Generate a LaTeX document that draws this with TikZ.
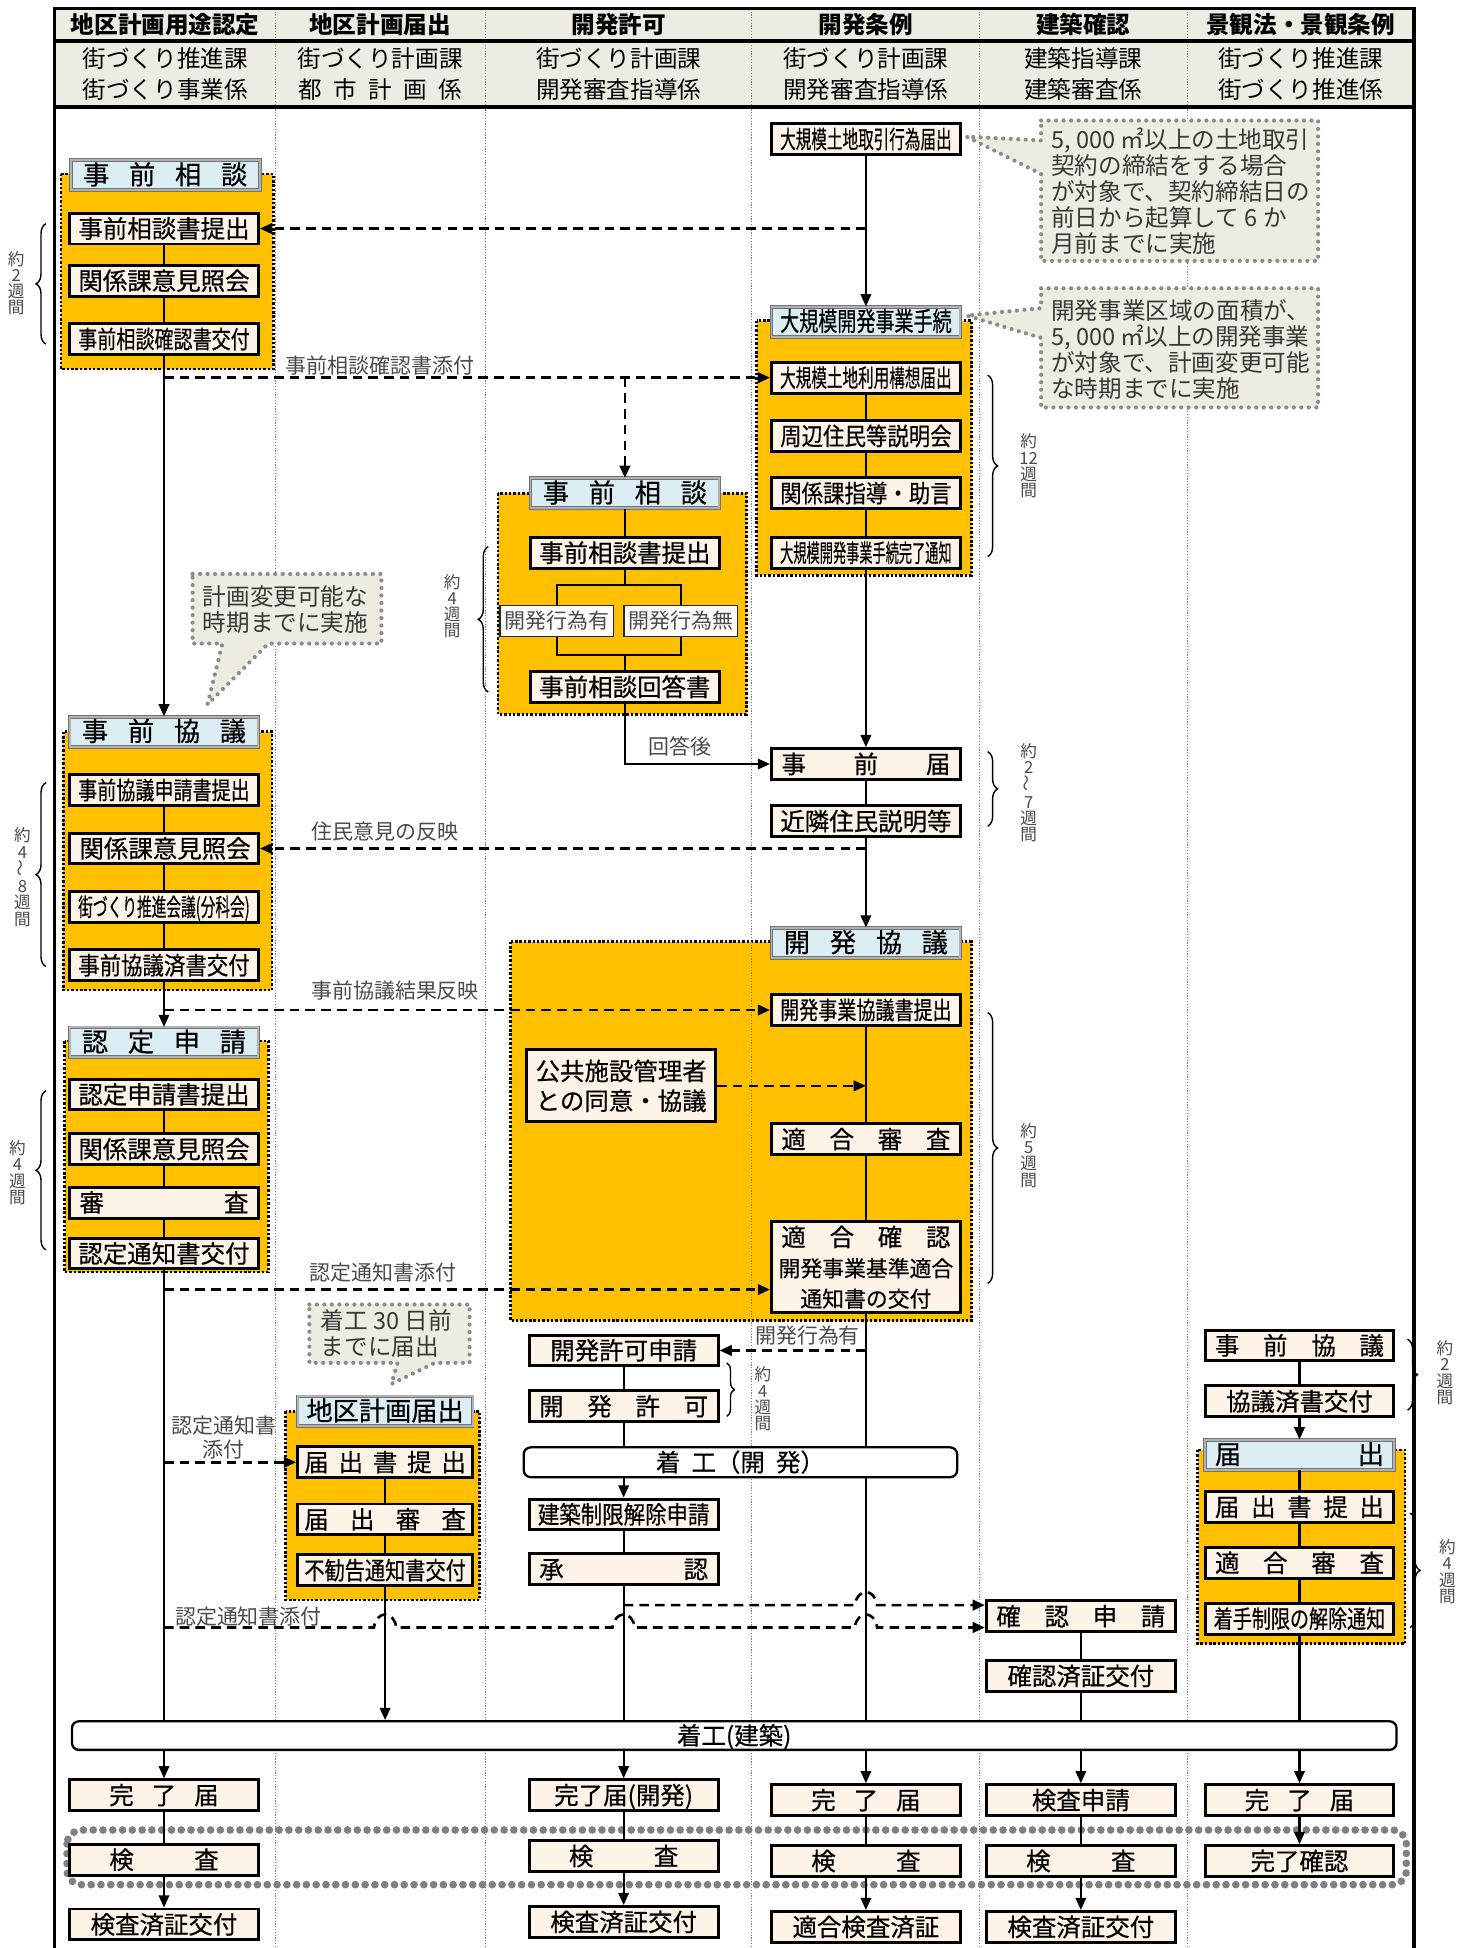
\documentclass[tikz,border=0pt]{standalone}
\usepackage{fontspec}
\usepackage{graphicx}
\setmainfont{Noto Sans CJK JP}
\newfontfamily\boxfont{Noto Sans CJK JP}[FakeBold=0.5]
\usetikzlibrary{arrows.meta,decorations.pathreplacing,backgrounds,calc}

\definecolor{grporange}{HTML}{FFC000}
\definecolor{boxcream}{HTML}{FEF3E7}
\definecolor{titleblue}{HTML}{DAEEF3}
\definecolor{notegray}{HTML}{EEECE1}
\definecolor{headbeige}{HTML}{EEECE2}
\definecolor{lblgray}{HTML}{4A4A4A}

\newsavebox\fitsave
\newcommand\fitin[2]{\sbox\fitsave{#2}%
  \ifdim\wd\fitsave>#1\relax
    \pgfmathsetmacro\fitratio{#1/\the\wd\fitsave}%
    \scalebox{\fitratio}[1]{\usebox\fitsave}%
  \else\usebox\fitsave\fi}
\newcommand\bx[1]{\fitin{3.45cm}{#1}}
\newcommand\spreadtxt[2]{\makebox[#1][s]{#2}}
\newcommand\hop[1]{-- ($(#1)+(-9,0)$) .. controls ($(#1)+(-7,-14)$) and ($(#1)+(7,-14)$) .. ($(#1)+(9,0)$)}

\tikzset{
  stepbox/.style={draw, line width=1.7pt, fill=boxcream, minimum width=3.8cm,
    minimum height=0.62cm, inner sep=0pt, text height=12pt, text depth=1.5pt,
    font=\boxfont\fontsize{14pt}{17pt}\selectfont},
  titlebox/.style={stepbox, draw=black!55, line width=0.5pt, double=black!30,
    double distance=1.1pt, fill=titleblue, minimum height=0.6cm,
    font=\boxfont\fontsize{15pt}{17pt}\selectfont},
  whitebox/.style={draw=black!85, line width=0.8pt, fill=white, minimum width=2.28cm,
    minimum height=0.62cm, inner sep=0pt, text=lblgray, text height=10pt,
    text depth=1.5pt, font=\fontsize{12pt}{14pt}\selectfont},
  barbox/.style={draw, line width=1.3pt, fill=white, rounded corners=4pt,
    minimum height=0.6cm, inner sep=0pt, text height=12pt, text depth=1.5pt,
    font=\boxfont\fontsize{14pt}{17pt}\selectfont},
  grpbox/.style={fill=grporange, draw=black, line width=1.5pt, dash pattern=on 1.4pt off 1.1pt},
  notebox/.style={fill=notegray, draw=black!45, line width=2.4pt,
    dash pattern=on 0pt off 4.3pt, line cap=round},
  notetxt/.style={text=black!78, align=left, inner sep=0pt,
    font=\fontsize{13.5pt}{14.9pt}\selectfont},
  conn/.style={line width=1.2pt},
  arr/.style={conn, -{Triangle[length=7pt,width=6pt]}},
  dline/.style={line width=1.5pt, dash pattern=on 5.5pt off 3.5pt},
  darr/.style={dline, -{Triangle[length=7pt,width=6pt]}},
  lbl/.style={text=lblgray, inner sep=1pt, font=\fontsize{12pt}{13.5pt}\selectfont},
  weeks/.style={text=lblgray, align=center, inner sep=0pt, font=\fontsize{9.5pt}{9.3pt}\selectfont},
  brc/.style={decorate, decoration={brace, amplitude=0.2cm}, line width=0.8pt},
  divline/.style={draw=black!50, line width=0.5pt, dash pattern=on 0.7pt off 0.9pt},
  frameline/.style={line width=2pt},
  headtxt/.style={inner sep=0pt, font=\fontsize{13.5pt}{15pt}\selectfont},
  dotband/.style={draw=black!50, line width=4.4pt, dash pattern=on 0pt off 5.6pt,
    line cap=round, rounded corners=8pt},
}

\begin{document}
\begin{tikzpicture}[x=0.025cm,y=-0.025cm]
\useasboundingbox (0,0) rectangle (1182,1568);

\foreach \x/\ttl/\ka/\kb [count=\i] in {
  133/地区計画用途認定/街づくり推進課/街づくり事業係,
  306/地区計画届出/街づくり計画課/{\spreadtxt{3.3cm}{都\hfil 市\hfil 計\hfil 画\hfil 係}},
  498/開発許可/街づくり計画課/開発審査指導係,
  697/開発条例/街づくり計画課/開発審査指導係,
  872/建築確認/建築指導課/建築審査係,
  1047/景観法・景観条例/街づくり推進課/街づくり推進係}
{
  \node[headtxt, font=\fontsize{13.5pt}{15pt}\selectfont\bfseries] (hd\i) at (\x,20) {\ttl};
  \node[headtxt] (hka\i) at (\x,47) {\ka};
  \node[headtxt] (hkb\i) at (\x,72) {\kb};
}

% column 1
\node[titlebox] (t1) at (133,141) {\spreadtxt{3.3cm}{事\hfil 前\hfil 相\hfil 談}};
\node[stepbox] (a1) at (132,184) {\bx{事前相談書提出}};
\node[stepbox] (a2) at (132,226) {\bx{関係課意見照会}};
\node[stepbox] (a3) at (132,273) {\bx{事前相談確認書交付}};
\node[titlebox] (t2) at (132,589) {\spreadtxt{3.3cm}{事\hfil 前\hfil 協\hfil 議}};
\node[stepbox] (b1) at (132,636) {\bx{事前協議申請書提出}};
\node[stepbox] (b2) at (132,683) {\spreadtxt{3.4cm}{関\hfil 係\hfil 課\hfil 意\hfil 見\hfil 照\hfil 会}};
\node[stepbox] (b3) at (132,730) {\bx{街づくり推進会議(分科会)}};
\node[stepbox] (b4) at (132,777) {\bx{事前協議済書交付}};
\node[titlebox] (t3) at (132,839) {\spreadtxt{3.3cm}{認\hfil 定\hfil 申\hfil 請}};
\node[stepbox] (c1) at (132,881) {\bx{認定申請書提出}};
\node[stepbox] (c2) at (132,925) {\bx{関係課意見照会}};
\node[stepbox] (c3) at (132,968) {\spreadtxt{3.4cm}{審\hfil 査}};
\node[stepbox] (c4) at (132,1009) {\bx{認定通知書交付}};
\node[stepbox] (n1) at (132,1445) {\spreadtxt{2.2cm}{完\hfil 了\hfil 届}};
\node[stepbox] (n2) at (132,1497) {\spreadtxt{2.2cm}{検\hfil 査}};
\node[stepbox] (n3) at (132,1549) {\bx{検査済証交付}};

% column 2
\node[titlebox, minimum width=3.52cm] (t7) at (310,1136) {\fitin{3.3cm}{地区計画届出}};
\node[stepbox, minimum width=3.52cm] (p1) at (310,1177) {\spreadtxt{3.25cm}{届\hfil 出\hfil 書\hfil 提\hfil 出}};
\node[stepbox, minimum width=3.52cm] (p2) at (310,1223) {\spreadtxt{3.25cm}{届\hfil 出\hfil 審\hfil 査}};
\node[stepbox, minimum width=3.52cm] (p3) at (310,1264) {\fitin{3.25cm}{不勧告通知書交付}};

% column 3
\node[titlebox] (t6) at (503,397) {\spreadtxt{3.3cm}{事\hfil 前\hfil 相\hfil 談}};
\node[stepbox] (h1) at (503,445) {\bx{事前相談書提出}};
\node[whitebox] (h2) at (448,500) {開発行為有};
\node[whitebox] (h3) at (548,500) {開発行為無};
\node[stepbox] (h4) at (503,553) {\bx{事前相談回答書}};
\node[stepbox, align=center, minimum height=1.45cm, text height=, text depth=] (pub) at (500,874) {公共施設管理者\\との同意・協議};
\node[stepbox] (k1) at (502,1087) {\bx{開発許可申請}};
\node[stepbox] (k2) at (502,1132) {\spreadtxt{3.4cm}{開\hfil 発\hfil 許\hfil 可}};
\node[barbox, minimum width=8.72cm] (kbar) at (596,1177) {\spreadtxt{3.4cm}{着\hfil 工（開\hfil 発）}};
\node[stepbox] (k3) at (502,1219) {\bx{建築制限解除申請}};
\node[stepbox] (k4) at (502,1263) {\spreadtxt{3.4cm}{承\hfil 認}};
\node[stepbox] (m1) at (502,1445) {\bx{完了届(開発)}};
\node[stepbox] (m2) at (502,1494) {\spreadtxt{2.2cm}{検\hfil 査}};
\node[stepbox] (m3) at (502,1547) {\bx{検査済証交付}};

% column 4
\node[stepbox] (d0) at (697,112) {\bx{大規模土地取引行為届出}};
\node[titlebox] (t4) at (697,259) {\bx{大規模開発事業手続}};
\node[stepbox] (d1) at (697,304) {\bx{大規模土地利用構想届出}};
\node[stepbox] (d2) at (697,351) {\bx{周辺住民等説明会}};
\node[stepbox] (d3) at (697,397) {\bx{関係課指導・助言}};
\node[stepbox] (d4) at (697,445) {\bx{大規模開発事業手続完了通知}};
\node[stepbox] (e1) at (697,615) {\spreadtxt{3.4cm}{事\hfil 前\hfil 届}};
\node[stepbox] (e2) at (697,661) {\bx{近隣住民説明等}};
\node[titlebox] (t5) at (697,759) {\spreadtxt{3.3cm}{開\hfil 発\hfil 協\hfil 議}};
\node[stepbox] (f1) at (697,813) {\bx{開発事業協議書提出}};
\node[stepbox] (f2) at (697,917) {\spreadtxt{3.4cm}{適\hfil 合\hfil 審\hfil 査}};
\node[stepbox, align=center, minimum height=1.82cm, text height=, text depth=,
  font=\boxfont\fontsize{14pt}{17.4pt}\selectfont] (f3) at (697,1020)
  {\spreadtxt{3.4cm}{適\hfil 合\hfil 確\hfil 認}\\{\fontsize{12.5pt}{17.4pt}\selectfont 開発事業基準適合}\\{\fontsize{12.5pt}{17.4pt}\selectfont 通知書の交付}};
\node[stepbox] (g1) at (697,1449) {\spreadtxt{2.2cm}{完\hfil 了\hfil 届}};
\node[stepbox] (g2) at (697,1498) {\spreadtxt{2.2cm}{検\hfil 査}};
\node[stepbox] (g3) at (697,1551) {\bx{適合検査済証}};

% column 5
\node[stepbox] (q1) at (870,1301) {\spreadtxt{3.4cm}{確\hfil 認\hfil 申\hfil 請}};
\node[stepbox] (q2) at (870,1349) {\bx{確認済証交付}};
\node[stepbox] (q3) at (870,1449) {\bx{検査申請}};
\node[stepbox] (q4) at (870,1498) {\spreadtxt{2.2cm}{検\hfil 査}};
\node[stepbox] (q5) at (870,1551) {\bx{検査済証交付}};

% column 6
\node[stepbox] (r1) at (1046,1083) {\spreadtxt{3.4cm}{事\hfil 前\hfil 協\hfil 議}};
\node[stepbox] (r2) at (1046,1128) {\bx{協議済書交付}};
\node[titlebox] (t8) at (1046,1171) {\spreadtxt{3.4cm}{届\hfil 出}};
\node[stepbox] (r3) at (1046,1213) {\spreadtxt{3.4cm}{届\hfil 出\hfil 書\hfil 提\hfil 出}};
\node[stepbox] (r4) at (1046,1258) {\spreadtxt{3.4cm}{適\hfil 合\hfil 審\hfil 査}};
\node[stepbox] (r5) at (1046,1303) {\bx{着手制限の解除通知}};
\node[stepbox] (r6) at (1046,1449) {\spreadtxt{2.2cm}{完\hfil 了\hfil 届}};
\node[stepbox] (r7) at (1046,1498) {\bx{完了確認}};

\node[barbox, minimum width=26.65cm, minimum height=0.575cm] (bar) at (591,1397) {着工(建築)};

% solid connectors
\draw[conn] (a1) -- (a2) (a2) -- (a3);
\draw[arr] (a3) -- (t2);
\draw[conn] (b1) -- (b2) (b2) -- (b3) (b3) -- (b4);
\draw[arr] (b4) -- (t3);
\draw[conn] (c1) -- (c2) (c2) -- (c3) (c3) -- (c4);
\draw[conn] (c4) -- (c4 |- bar.north);
\draw[arr] (n1 |- bar.south) -- (n1);
\draw[conn] (n1) -- (n2);
\draw[arr] (n2) -- (n3);

\draw[conn] (p1) -- (p2) (p2) -- (p3);
\draw[arr] (p3) -- (p3 |- bar.north);

\coordinate (sp1) at (503,471);
\coordinate (sp2) at (503,527);
\draw[conn] (t6) -- (h1);
\draw[conn] (h1) -- (sp1) (sp1) -| (h2.north) (sp1) -| (h3.north);
\draw[conn] (h2.south) |- (sp2) (h3.south) |- (sp2) (sp2) -- (h4);
\draw[arr] (h4) |- (e1.west);
\draw[conn] (k1) -- (k2);
\draw[conn] (k2) -- (k2 |- kbar.north);
\draw[arr] (kbar.south -| k3) -- (k3);
\draw[conn] (k3) -- (k4);
\draw[conn] (k4) -- (k4 |- bar.north);
\draw[arr] (m1 |- bar.south) -- (m1);
\draw[conn] (m1) -- (m2);
\draw[arr] (m2) -- (m3);

\draw[arr] (d0) -- (t4);
\draw[conn] (d1) -- (d2) (d2) -- (d3) (d3) -- (d4);
\draw[arr] (d4) -- (e1);
\draw[conn] (e1) -- (e2);
\draw[arr] (e2) -- (t5);
\draw[conn] (f1) -- (f2) (f2) -- (f3);
\draw[conn] (f3) -- (f3 |- kbar.north) (f3 |- kbar.south) -- (f3 |- bar.north);
\draw[arr] (g1 |- bar.south) -- (g1);
\draw[conn] (g1) -- (g2);
\draw[arr] (g2) -- (g3);

\draw[conn] (q1) -- (q2);
\draw[conn] (q2) -- (q2 |- bar.north);
\draw[arr] (q3 |- bar.south) -- (q3);
\draw[conn] (q3) -- (q4);
\draw[arr] (q4) -- (q5);

\draw[conn] (r1) -- (r2);
\draw[arr] (r2) -- (t8);
\draw[conn] (t8) -- (r3) (r3) -- (r4) (r4) -- (r5);
\draw[conn] (r5) -- (r5 |- bar.north);
\draw[arr] (r6 |- bar.south) -- (r6);
\draw[arr] (r6) -- (r7);

% dashed connectors
\draw[darr] (d0 |- a1) -- (a1.east);
\draw[darr] (a3 |- d1) -- (d1.west);
\draw[darr] (t6 |- d1) -- (t6);
\draw[darr] (e2 |- b2) -- (b2.east);
\draw[darr] (b4 |- f1) -- (f1.west);
\draw[darr] (pub) -- (f2 |- pub);
\coordinate (ya) at (0,1038);
\draw[darr] (c4 |- ya) -- (f3.west |- ya);
\draw[darr] (f3 |- k1) -- (k1.east);
\draw[darr] (c4 |- p1) -- (p1.west);
\coordinate (yu) at (0,1292);
\coordinate (yl) at (0,1310);
\coordinate (x1) at (p3 |- yl);
\coordinate (x2) at (k4 |- yl);
\coordinate (x3) at (f3 |- yl);
\coordinate (x4) at (f3 |- yu);
\draw[darr] (k4 |- yu) \hop{x4} -- (q1.west |- yu);
\draw[darr] (c4 |- yl) \hop{x1} \hop{x2} \hop{x3} -- (q1.west |- yl);

% labels
\node[lbl] (l1) at (306,294) {事前相談確認書添付};
\node[lbl] (l2) at (310,669) {住民意見の反映};
\node[lbl] (l3) at (318,797) {事前協議結果反映};
\node[lbl] (l4) at (308,1024) {認定通知書添付};
\node[lbl] (l5) at (650,1075) {開発行為有};
\node[lbl, align=center] (l6) at (180,1157) {認定通知書\\添付};
\node[lbl] (l7) at (200,1301) {認定通知書添付};
\node[lbl] (l8) at (547,601) {回答後};

% callouts
\draw[notebox] (838,97) -- (1061,97) -- (1061,210) -- (838,210) -- (838,140) -- (778,110) -- (838,113) -- cycle;
\node[notetxt, anchor=west] (nt1) at (846,154) {5, 000 ㎡以上の土地取引\\契約の締結をする場合\\が対象で、契約締結日の\\前日から起算して 6 か\\月前までに実施};
\draw[notebox] (838,232) -- (1061,232) -- (1061,328) -- (838,328) -- (838,272) -- (778,254) -- (838,248) -- cycle;
\node[notetxt, anchor=west] (nt2) at (846,281) {開発事業区域の面積が、\\5, 000 ㎡以上の開発事業\\が対象で、計画変更可能\\な時期までに実施};
\draw[notebox] (155,462) -- (307,462) -- (307,518) -- (216,518) -- (167,567) -- (179,518) -- (155,518) -- cycle;
\node[notetxt, anchor=west] (nt3) at (163,491) {計画変更可能な\\時期までに実施};
\draw[notebox] (249,1050) -- (378,1050) -- (378,1097) -- (350,1097) -- (315,1114) -- (320,1097) -- (249,1097) -- cycle;
\node[notetxt, anchor=west] (nt4) at (258,1073) {着工 30 日前\\までに届出};

% braces
\draw[brc] (37,277) -- (37,180);
\draw[brc] (37,778) -- (37,630);
\draw[brc] (37,1006) -- (37,878);
\draw[brc] (393,557) -- (393,440);
\draw[brc] (795,302) -- (795,448);
\draw[brc] (795,605) -- (795,665);
\draw[brc] (795,815) -- (795,1033);
\draw[brc, decoration={brace, amplitude=0.15cm}] (585,1097) -- (585,1140);
\draw[brc] (1133,1078) -- (1133,1135);
\draw[brc] (1135,1218) -- (1135,1310);
\node[weeks] (w1) at (13,228) {約\\2\\週\\間};
\node[weeks] (w2) at (18,706) {約\\4\\\rotatebox{90}{～}\\8\\週\\間};
\node[weeks] (w3) at (14,944) {約\\4\\週\\間};
\node[weeks] (w4) at (364,488) {約\\4\\週\\間};
\node[weeks] (w5) at (828,375) {約\\12\\週\\間};
\node[weeks] (w6) at (828,638) {約\\2\\\rotatebox{90}{～}\\7\\週\\間};
\node[weeks] (w7) at (828,930) {約\\5\\週\\間};
\node[weeks] (w8) at (614,1126) {約\\4\\週\\間};
\node[weeks] (w9) at (1163,1105) {約\\2\\週\\間};
\node[weeks] (w10) at (1165,1265) {約\\4\\週\\間};

\begin{scope}[on background layer]
\fill[headbeige] (44,7) rectangle (1138,86);
\foreach \x in {222,391,605,788,956} \draw[divline] (\x,7) -- (\x,1568);
\draw[grpbox] (49,140) rectangle (220,297);
\draw[grpbox] (401,397) rectangle (601,575);
\draw[grpbox] (609,258) rectangle (782,463);
\draw[grpbox] (51,589) rectangle (219,797);
\draw[grpbox] (411,758) rectangle (782,1063);
\draw[grpbox] (52,838) rectangle (216,1024);
\draw[grpbox] (230,1136) rectangle (386,1288);
\draw[grpbox] (964,1167) rectangle (1131,1323);
\draw[divline] (605,758) -- (605,1063);
\draw[dotband] (54,1473) rectangle (1132,1517);
\draw[frameline] (44,1568) -- (44,7) -- (1138,7) -- (1138,1568);
\draw[frameline] (44,33) -- (1138,33) (44,86) -- (1138,86);
\end{scope}
\end{tikzpicture}
\end{document}
